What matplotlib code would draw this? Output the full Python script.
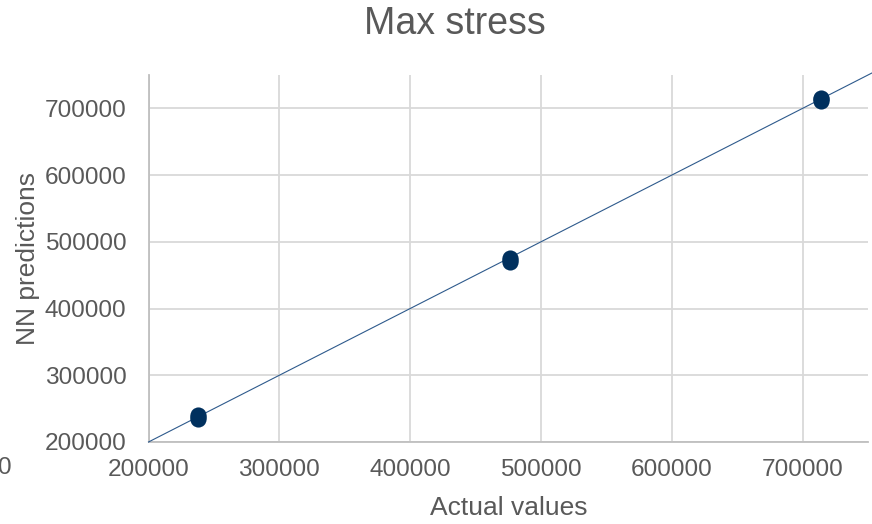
import matplotlib
matplotlib.use("Agg")
import matplotlib.pyplot as plt

# Data
actual = [238000, 238000, 238000, 476000, 476000, 476000, 714000, 714000, 714000]
predicted = [235000, 237500, 240000, 470500, 473000, 475500, 711000, 713500, 716000]
trend_x = [200000, 755000]
trend_y = [200000, 755000]
ticks = [200000, 300000, 400000, 500000, 600000, 700000]

plt.rcParams['font.family'] = ['Liberation Sans', 'DejaVu Sans']
grey_text = '#595959'

fig = plt.figure(figsize=(8.72, 5.24), dpi=100)
ax = fig.add_axes([148.5/872, 1-442/524, (868-148.5)/872, (442-75)/524])

ax.set_xlim(200000, 750000)
ax.set_ylim(200000, 750000)
ax.set_xticks(ticks)
ax.set_yticks(ticks)
ax.set_xticklabels([str(t) for t in ticks])
ax.set_yticklabels([str(t) for t in ticks])
ax.tick_params(axis='both', length=0, labelsize=17.6, labelcolor=grey_text)
ax.tick_params(axis='x', pad=12)
ax.tick_params(axis='y', pad=16)

ax.grid(True, color='#d9d9d9', linewidth=1.3)
ax.set_axisbelow(True)
for s in ['top', 'right']:
    ax.spines[s].set_visible(False)
for s in ['left', 'bottom']:
    ax.spines[s].set_color('#bfbfbf')
    ax.spines[s].set_linewidth(1.3)

ax.plot(trend_x, trend_y, color='#2e5a8c', linewidth=0.8, clip_on=False, zorder=3)
ax.scatter(actual, predicted, s=135, color='#00305e', zorder=4, linewidths=0)

ax.set_xlabel('Actual values', fontsize=19, color=grey_text, va='center')
ax.set_ylabel('NN predictions', fontsize=19, color=grey_text, va='center')
ax.xaxis.set_label_coords(0.5, (442-508)/367)
ax.yaxis.set_label_coords((28-148.5)/719.5, 0.5)

fig.text(455/872, 1-24/524, 'Max stress', fontsize=27, color=grey_text,
         ha='center', va='center')
fig.text(-2/872, 1-468/524, '0', fontsize=17.6, color=grey_text, ha='left', va='center')

fig.savefig('out.png', dpi=100)
